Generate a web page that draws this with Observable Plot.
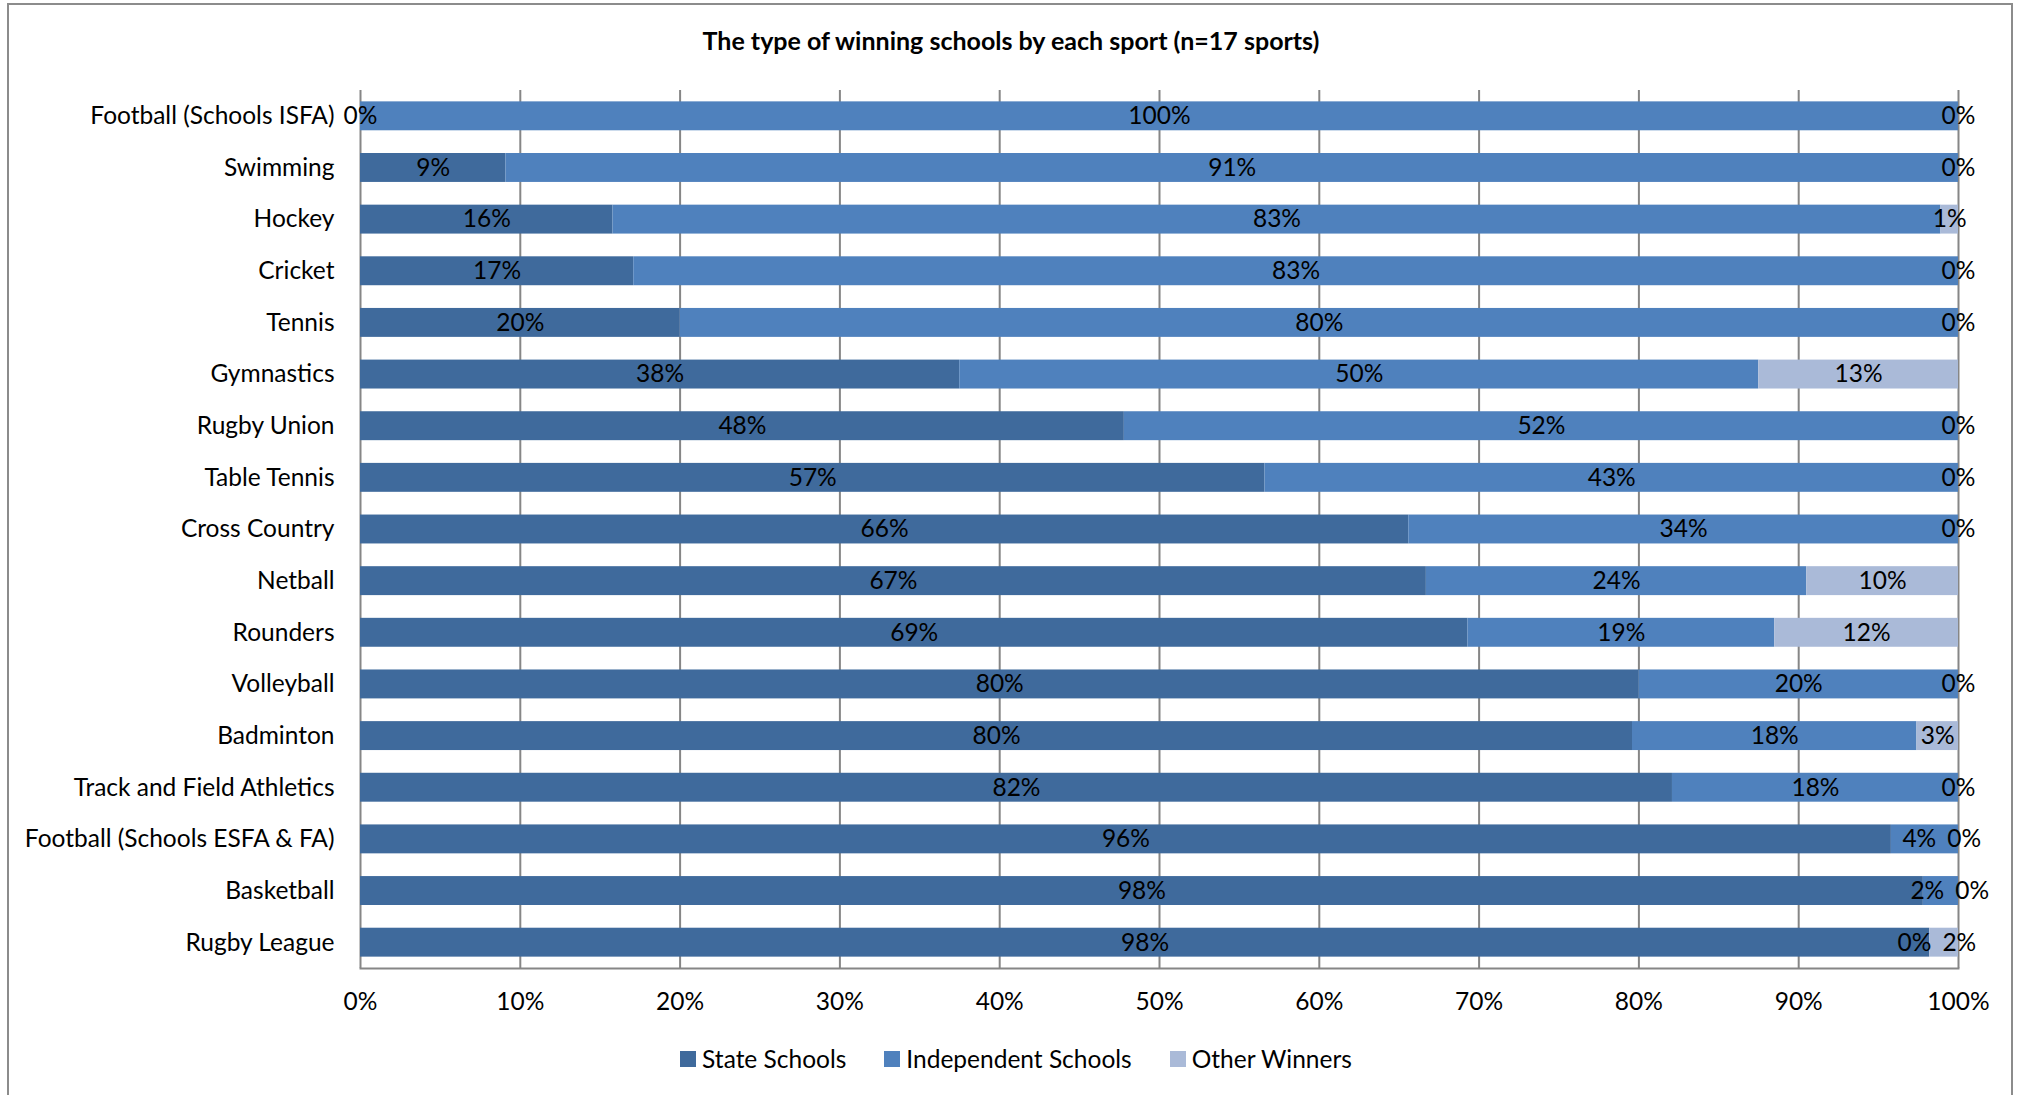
<!DOCTYPE html>
<html>
<head>
<meta charset="utf-8">
<script src="https://cdn.jsdelivr.net/npm/d3@7"></script>
<script src="https://cdn.jsdelivr.net/npm/@observablehq/plot@0.6"></script>
<style>
  html, body { margin: 0; padding: 0; background: #fff; width: 2017px; height: 1095px; overflow: hidden; font-family: Lato, "Open Sans", sans-serif; }
  #frame { position: absolute; left: 7px; top: 3px; width: 2006px; height: 1120px; border: 2px solid #8c8c8c; box-sizing: border-box; }
  #title { position: absolute; left: 0; top: 25px; width: 2022px; text-align: center; font-weight: bold; font-size: 25px; line-height: 30px; color: #000; }
  #chart { position: absolute; left: 0; top: 70px; }
  #legend { position: absolute; left: 0; top: 1046px; width: 2032px; display: flex; justify-content: center; font-size: 24.5px; line-height: 26px; color: #000; }
  .item { display: flex; align-items: center; margin: 0 19px; }
  .sw { width: 16px; height: 16px; margin-right: 6px; }
</style>
</head>
<body>
<div id="frame"></div>
<div id="title">The type of winning schools by each sport (n=17 sports)</div>
<div id="chart"></div>
<div id="legend"></div>
<script>
const sports = ["Football (Schools ISFA)", "Swimming", "Hockey", "Cricket", "Tennis", "Gymnastics", "Rugby Union", "Table Tennis", "Cross Country", "Netball", "Rounders", "Volleyball", "Badminton", "Track and Field Athletics", "Football (Schools ESFA & FA)", "Basketball", "Rugby League"];
const stateSchools       = [0,   9.1, 15.8, 17.1, 20, 37.5, 47.8, 56.6, 65.6, 66.7, 69.3, 80, 79.6, 82.1, 95.8, 97.8, 98.2];
const independentSchools = [100, 90.9, 83.1, 82.9, 80, 50,  52.2, 43.4, 34.4, 23.8, 19.2, 20, 17.8, 17.9, 4.2,  2.2,  0];
const otherWinners       = [0,   0,   1.1,  0,    0,  12.5, 0,    0,    0,    9.5,  11.5, 0,  2.6,  0,    0,    0,    1.8];
const seriesNames = ["State Schools", "Independent Schools", "Other Winners"];
const seriesColors = ["#3f6a9c", "#4f81bd", "#aabad8"];
const xTicks = [0, 10, 20, 30, 40, 50, 60, 70, 80, 90, 100];

const seriesValues = [stateSchools, independentSchools, otherWinners];
const table = [];
sports.forEach((s, i) => seriesNames.forEach((n, k) => table.push({sport: s, series: n, value: seriesValues[k][i]})));

// value labels at segment midpoints, pushed apart when they collide
const width = 2017, marginLeft = 360, marginRight = 59;
const unit = 100 / (width - marginLeft - marginRight);
const fontPx = 24.5;
const labelWidth = t => ((t.length - 1) * 0.58 + 0.8) * fontPx * unit;
const gap = 11 * unit;
const labels = [];
sports.forEach((s, i) => {
  let acc = 0;
  const row = seriesNames.map((n, k) => {
    const v = seriesValues[k][i];
    const mid = acc + v / 2;
    acc += v;
    return {sport: s, text: Math.round(v) + "%", x: mid};
  });
  for (let pass = 0; pass < 6; pass++) {
    for (let j = 1; j < row.length; j++) {
      const need = (labelWidth(row[j - 1].text) + labelWidth(row[j].text)) / 2 + gap;
      const d = row[j].x - row[j - 1].x;
      if (d < need) {
        const shift = (need - d) / 2;
        row[j - 1].x -= shift;
        row[j].x += shift;
      }
    }
  }
  labels.push(...row);
});

const chart = Plot.plot({
  width,
  height: 958,
  marginLeft,
  marginRight,
  marginTop: 20,
  marginBottom: 60,
  style: {fontFamily: "Lato, 'Open Sans', sans-serif", fontSize: "24px", color: "#000", background: "transparent"},
  x: {domain: [0, 100]},
  y: {domain: sports, paddingInner: 0.44, paddingOuter: 0.22, round: false},
  color: {domain: seriesNames, range: seriesColors},
  marks: [
    Plot.ruleX(xTicks, {stroke: "#868686", strokeWidth: 2}),
    Plot.barX(table, {x: "value", y: "sport", fill: "series", order: seriesNames}),
    Plot.frame({anchor: "bottom", stroke: "#868686", strokeWidth: 2}),
    Plot.text(labels, {x: "x", y: "sport", text: "text", fontSize: fontPx, fill: "#000"}),
    Plot.axisX(xTicks, {tickSize: 0, tickPadding: 24, tickFormat: d => d + "%", fontSize: fontPx, label: null}),
    Plot.axisY({tickSize: 0, tickPadding: 26, fontSize: fontPx, label: null})
  ]
});
document.getElementById("chart").appendChild(chart);

const legend = document.getElementById("legend");
seriesNames.forEach((n, k) => {
  const it = document.createElement("div");
  it.className = "item";
  const sw = document.createElement("div");
  sw.className = "sw";
  sw.style.background = seriesColors[k];
  const tx = document.createElement("span");
  tx.textContent = n;
  it.appendChild(sw);
  it.appendChild(tx);
  legend.appendChild(it);
});
</script>
</body>
</html>
